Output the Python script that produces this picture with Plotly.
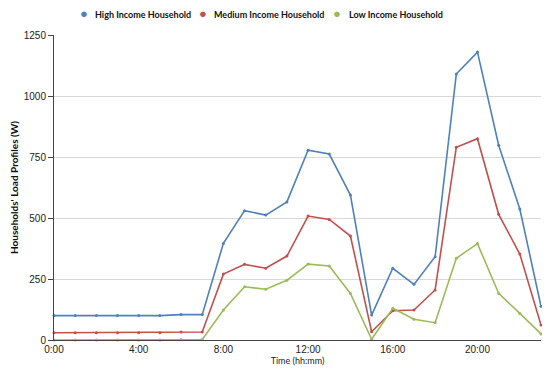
import plotly.graph_objects as go

hours = list(range(24))
tick_vals = [0, 4, 8, 12, 16, 20]
tick_text = ["0:00", "4:00", "8:00", "12:00", "16:00", "20:00"]

series_names = ["High Income Household", "Medium Income Household", "Low Income Household"]
high_income = [100, 100, 100, 100, 100, 100, 104, 104, 396, 530, 512, 566, 778, 762, 594, 102,
               294, 228, 341, 1090, 1180, 798, 537, 138]
medium_income = [30, 30, 30, 30, 30, 30, 33, 33, 270, 310, 294, 344, 508, 494, 426, 34,
                 120, 123, 205, 790, 825, 515, 352, 61]
low_income = [0, 0, 0, 0, 0, 0, 2, 2, 123, 218, 208, 245, 311, 303, 191, 3,
              130, 85, 71, 335, 395, 191, 109, 25]

colors = ["#4f81bd", "#c0504d", "#9bbb59"]
values = [high_income, medium_income, low_income]

fig = go.Figure()
for name, vals, color in zip(series_names, values, colors):
    fig.add_trace(go.Scatter(
        x=hours, y=vals, name=name, mode="lines+markers", showlegend=False,
        line=dict(color=color, width=1.6),
        marker=dict(color=color, size=3, symbol="circle"),
        cliponaxis=False,
    ))

# legend drawn as annotations (compact, like the reference)
legend_dot_x = [0.0622, 0.3066, 0.5817]
legend_text_x = [0.0795, 0.3244, 0.601]
legend_y = 1.068
for name, color, dx, tx in zip(series_names, colors, legend_dot_x, legend_text_x):
    fig.add_annotation(x=dx, y=legend_y + 0.001, xref="paper", yref="paper", text="●",
                       showarrow=False, xanchor="center", yanchor="middle", borderpad=0,
                       font=dict(family="Liberation Sans", size=13, color=color))
    fig.add_annotation(x=tx, y=legend_y, xref="paper", yref="paper", text=name,
                       showarrow=False, xanchor="left", yanchor="middle",
                       font=dict(family="Lato", size=9, color="#111", weight="bold"))

fig.update_layout(
    width=542, height=364,
    margin=dict(l=46, r=9, t=27, b=32, autoexpand=False),
    paper_bgcolor="white", plot_bgcolor="white",
    font=dict(family="Liberation Sans, Arial, sans-serif", size=10, color="#222"),
    showlegend=False,
    xaxis=dict(
        range=[0, 23], tickvals=tick_vals, ticktext=tick_text,
        showgrid=False, zeroline=False, automargin=False,
        showline=True, linecolor="#444", linewidth=1,
        ticks="", tickfont=dict(size=10, color="#222"),
        title=dict(text="Time (hh:mm)", font=dict(family="Lato", size=9, color="#222"), standoff=2),
    ),
    yaxis=dict(
        range=[0, 1250], tickvals=[0, 250, 500, 750, 1000, 1250],
        showgrid=True, gridcolor="#d9d9d9", gridwidth=1, zeroline=False, automargin=False,
        showline=True, linecolor="#444", linewidth=1,
        ticks="outside", ticklen=5, tickcolor="#444",
        tickfont=dict(size=10, color="#222"),
        title=dict(text="Households' Load Profiles (W)",
                   font=dict(family="Lato", size=10, color="#111", weight="bold"), standoff=5),
    ),
)

fig.write_html("out.html")
